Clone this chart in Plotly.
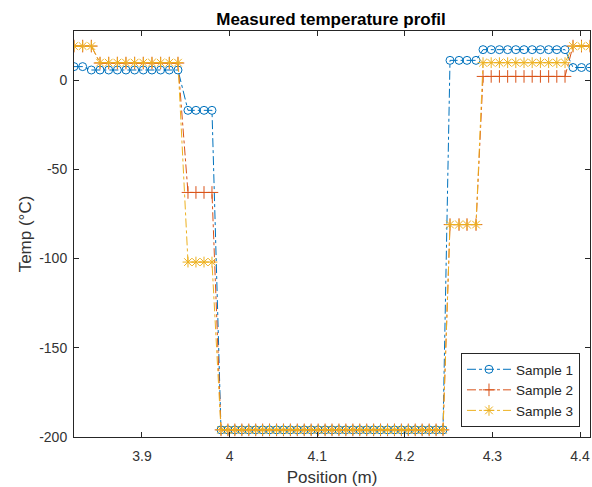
import plotly.graph_objects as go

# Positions (m)
position = [
    3.8224, 3.8323, 3.8422, 3.8521, 3.8620, 3.8719, 3.8817, 3.8916, 3.9015, 3.9114, 3.9213, 3.9312, 3.9411,
    3.9525, 3.9616, 3.9708, 3.9799,
    3.9902, 3.9981, 4.0060, 4.0140, 4.0219, 4.0298, 4.0377, 4.0456, 4.0536, 4.0615, 4.0694,
    4.0773, 4.0852, 4.0931, 4.1011, 4.1090, 4.1169, 4.1248, 4.1327, 4.1407, 4.1486, 4.1565,
    4.1644, 4.1723, 4.1803, 4.1882, 4.1961, 4.2040, 4.2119, 4.2198, 4.2278, 4.2357, 4.2436,
    4.2516, 4.2619, 4.2710, 4.2813,
    4.2893, 4.2986, 4.3080, 4.3174, 4.3267, 4.3361, 4.3454, 4.3548, 4.3642, 4.3735, 4.3829,
    4.3920, 4.4017, 4.4114,
]

sample1 = (
    [7.5, 7.5] + [5.6] * 11
    + [-17] * 4
    + [-196] * 33
    + [11] * 4
    + [17] * 11
    + [7] * 3
)
sample2 = (
    [19, 19, 19] + [9.5] * 10
    + [-63] * 4
    + [-196] * 33
    + [-81] * 4
    + [2] * 11
    + [19] * 3
)
sample3 = (
    [19, 19, 19] + [9.7] * 10
    + [-102] * 4
    + [-196] * 33
    + [-81] * 4
    + [9.7] * 11
    + [19] * 3
)

x_ticks = [3.9, 4.0, 4.1, 4.2, 4.3, 4.4]
x_labels = ["3.9", "4", "4.1", "4.2", "4.3", "4.4"]
y_ticks = [-200, -150, -100, -50, 0]
y_labels = ["-200", "-150", "-100", "-50", "0"]

names = ["Sample 1", "Sample 2", "Sample 3"]
colors = ["#0072BD", "#D95319", "#EDB120"]
symbols = ["circle-open", "cross-thin-open", "asterisk-open"]
sizes = [8, 9, 9]

fig = go.Figure()
for name, ys, c, s, sz in zip(names, [sample1, sample2, sample3], colors, symbols, sizes):
    fig.add_trace(go.Scatter(
        x=position, y=ys, name=name, mode="lines+markers",
        line=dict(color=c, width=1, dash="dashdot"),
        marker=dict(symbol=s, size=sz, color=c, line=dict(color=c, width=1)),
    ))

FONT = "Liberation Sans, Arial"
axis_common = dict(
    showgrid=False, zeroline=False, showline=True, linecolor="#262626", linewidth=1,
    mirror="ticks", ticks="inside", ticklen=5, tickcolor="#262626", automargin=False,
    tickfont=dict(family=FONT, size=14, color="#333333"),
)

fig.update_layout(
    width=592, height=487,
    margin=dict(l=74, r=2, t=31, b=50),
    paper_bgcolor="white", plot_bgcolor="white",
    title=dict(text="<b>Measured temperature profil</b>", x=331 / 592, xanchor="center",
               y=1 - 19 / 487, yanchor="middle",
               font=dict(family=FONT, size=17, color="black")),
    xaxis=dict(range=[3.8224, 4.4114], tickvals=x_ticks, ticktext=x_labels, ticklabelstandoff=6,
               title=dict(text="Position (m)", font=dict(family=FONT, size=17, color="#333333"),
                          standoff=9),
               **axis_common),
    yaxis=dict(range=[-200, 27.45], tickvals=y_ticks, ticktext=y_labels, ticklabelstandoff=3,
               title=dict(text="Temp (°C)", font=dict(family=FONT, size=17, color="#333333"),
                          standoff=3),
               **axis_common),
    legend=dict(x=0.9806, xanchor="right", y=0.0246, yanchor="bottom",
                bordercolor="#262626", borderwidth=1, bgcolor="white",
                font=dict(family=FONT, size=13.5, color="#262626"),
                tracegroupgap=0, itemwidth=44),
    showlegend=True,
)

fig.write_html("out.html", config={"displayModeBar": False})

# remove default browser body margin so the figure sits at the window origin
with open("out.html", "r", encoding="utf-8") as f:
    html = f.read()
html = html.replace("<body>", '<body style="margin:0;padding:0;overflow:hidden">', 1)
with open("out.html", "w", encoding="utf-8") as f:
    f.write(html)
